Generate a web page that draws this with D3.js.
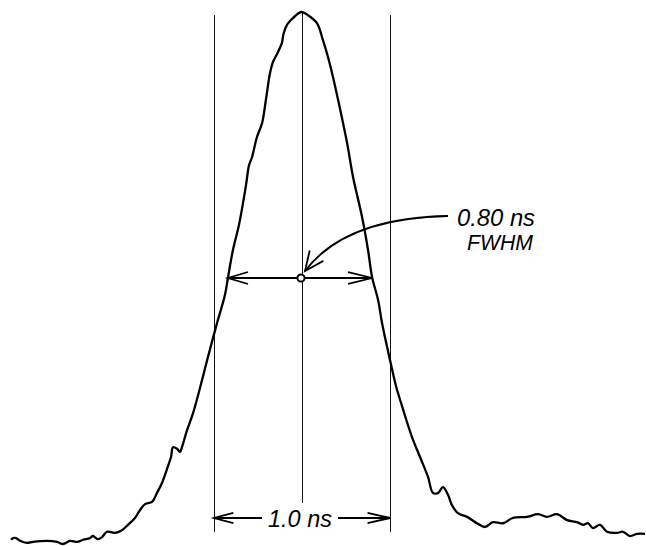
<!DOCTYPE html>
<html>
<head>
<meta charset="utf-8">
<script src="https://cdn.jsdelivr.net/npm/d3@7"></script>
<style>
  body { margin: 0; background: #fff; }
  svg { display: block; }
  text { font-family: "Liberation Sans", Arial, sans-serif; font-style: italic; fill: #000; }
</style>
</head>
<body>
<svg width="646" height="546"></svg>
<script>
// pulse shape: time in ns (0 = peak), normalised intensity
var pulseTime = [
  -1.653, -1.642, -1.625, -1.602, -1.563, -1.528, -1.449, -1.392, -1.358, -1.318,
  -1.278, -1.244, -1.205, -1.188, -1.159, -1.136, -1.108, -1.063, -1.023, -0.989,
  -0.949, -0.920, -0.892, -0.852, -0.824, -0.795, -0.767, -0.744, -0.733, -0.710,
  -0.693, -0.682, -0.653, -0.619, -0.568, -0.534, -0.483, -0.438, -0.420, -0.392,
  -0.358, -0.318, -0.301, -0.284, -0.256, -0.227, -0.205, -0.182, -0.165, -0.136,
  -0.114, -0.105, -0.085, -0.068, -0.040, -0.006, 0.034, 0.085, 0.119, 0.148,
  0.176, 0.205, 0.256, 0.290, 0.341, 0.375, 0.398, 0.432, 0.455, 0.500,
  0.534, 0.563, 0.591, 0.625, 0.670, 0.716, 0.744, 0.773, 0.801, 0.830,
  0.852, 0.886, 0.938, 0.994, 1.040, 1.085, 1.142, 1.199, 1.278, 1.341,
  1.392, 1.449, 1.506, 1.563, 1.597, 1.625, 1.653, 1.693, 1.733, 1.790,
  1.824, 1.864, 1.903, 1.949
];
var pulseLevel = [
  0.008, 0.011, 0.011, 0.006, 0.002, 0.004, 0.006, 0.004, 0.000, 0.006,
  0.004, 0.008, 0.011, 0.015, 0.009, 0.013, 0.023, 0.021, 0.026, 0.036,
  0.049, 0.064, 0.075, 0.079, 0.096, 0.115, 0.141, 0.164, 0.182, 0.179,
  0.173, 0.182, 0.214, 0.246, 0.308, 0.352, 0.415, 0.468, 0.502, 0.553,
  0.600, 0.675, 0.712, 0.727, 0.765, 0.791, 0.835, 0.885, 0.906, 0.925,
  0.942, 0.959, 0.976, 0.983, 0.992, 1.000, 0.994, 0.979, 0.947, 0.915,
  0.878, 0.835, 0.754, 0.690, 0.615, 0.553, 0.502, 0.459, 0.415, 0.346,
  0.297, 0.265, 0.235, 0.201, 0.164, 0.126, 0.096, 0.096, 0.107, 0.092,
  0.073, 0.058, 0.051, 0.039, 0.032, 0.041, 0.039, 0.049, 0.051, 0.056,
  0.051, 0.056, 0.045, 0.041, 0.036, 0.039, 0.030, 0.036, 0.023, 0.021,
  0.023, 0.015, 0.019, 0.019
];
var markerTimes = [-0.5, 0, 0.5];
var halfMax = 0.5;
var fwhmLabels = ['0.80 ns', 'FWHM'];
var spanLabel = '1.0 ns';

var width = 646, height = 546;
var svg = d3.select('svg');

var x = d3.scaleLinear().domain([-0.5, 0.5]).range([214, 390]);
var y = d3.scaleLinear().domain([0, 1]).range([544, 12]);

var points = pulseTime.map(function(t, i) {
  return { t: t, v: pulseLevel[i] };
});

// open "V" arrow head, ang = direction the arrow travels
function arrowHead(g, px, py, ang, len, spread) {
  var a1 = ang + Math.PI - spread, a2 = ang + Math.PI + spread;
  g.append('path')
    .attr('d', 'M' + (px + len * Math.cos(a1)) + ',' + (py + len * Math.sin(a1)) +
               'L' + px + ',' + py +
               'L' + (px + len * Math.cos(a2)) + ',' + (py + len * Math.sin(a2)))
    .attr('fill', 'none')
    .attr('stroke', '#000')
    .attr('stroke-width', 1.8)
    .attr('stroke-linejoin', 'miter');
}

// where the trace crosses half maximum, rising and falling edge
function halfCrossing(rising) {
  for (var i = 0; i < points.length - 1; i++) {
    var a = points[i], b = points[i + 1];
    var ok = rising ? (a.v < halfMax && b.v >= halfMax) : (a.v >= halfMax && b.v < halfMax);
    if (ok) return a.t + (halfMax - a.v) / (b.v - a.v) * (b.t - a.t);
  }
  return 0;
}

// vertical reference lines
var lines = svg.append('g').classed('lines', true);
lines.selectAll('line')
  .data(markerTimes)
  .enter()
  .append('line')
  .attr('x1', function(d) { return x(d) + 0.5; })
  .attr('x2', function(d) { return x(d) + 0.5; })
  .attr('y1', function(d) { return d === 0 ? y(1) : 15; })
  .attr('y2', function(d) { return d === 0 ? 503 : 532; })
  .attr('stroke', '#111')
  .attr('stroke-width', 1);

// the pulse
var line = d3.line()
  .x(function(d) { return x(d.t); })
  .y(function(d) { return y(d.v); })
  .curve(d3.curveCatmullRom.alpha(0.5));

svg.append('path')
  .datum(points)
  .attr('d', line)
  .attr('fill', 'none')
  .attr('stroke', '#000')
  .attr('stroke-width', 2.3)
  .attr('stroke-linejoin', 'round');

// FWHM arrows
var ann = svg.append('g').classed('annotations', true);
var tL = halfCrossing(true), tR = halfCrossing(false);
var yh = y(halfMax);
ann.append('line')
  .attr('x1', x(tL)).attr('x2', x(tR))
  .attr('y1', yh).attr('y2', yh)
  .attr('stroke', '#000').attr('stroke-width', 2);
arrowHead(ann, x(tL), yh, Math.PI, 21, 0.29);
arrowHead(ann, x(tR), yh, 0, 25, 0.24);

// leader from the label to the centre
var p0 = [448, 216], p1 = [345, 218], p2 = [x(0) + 3, yh - 7];
var lp = d3.path();
lp.moveTo(p0[0], p0[1]);
lp.quadraticCurveTo(p1[0], p1[1], p2[0], p2[1]);
ann.append('path')
  .attr('d', lp.toString())
  .attr('fill', 'none')
  .attr('stroke', '#000')
  .attr('stroke-width', 1.8);
arrowHead(ann, p2[0], p2[1], Math.atan2(p2[1] - p1[1], p2[0] - p1[0]), 21, 0.42);

ann.append('circle')
  .attr('cx', x(0) - 1)
  .attr('cy', yh)
  .attr('r', 3.6)
  .attr('fill', '#fff')
  .attr('stroke', '#000')
  .attr('stroke-width', 2);

ann.selectAll('text.fwhm')
  .data(fwhmLabels)
  .enter()
  .append('text')
  .classed('fwhm', true)
  .attr('x', function(d, i) { return i === 0 ? 457 : 467; })
  .attr('y', function(d, i) { return i === 0 ? 226 : 250; })
  .attr('font-size', function(d, i) { return i === 0 ? 24 : 22; })
  .attr('textLength', function(d, i) { return i === 0 ? 78 : 66; })
  .attr('lengthAdjust', 'spacingAndGlyphs')
  .text(function(d) { return d; });

// 1.0 ns span arrow
var ys = 518;
ann.append('line')
  .attr('x1', x(-0.5)).attr('x2', 262)
  .attr('y1', ys).attr('y2', ys)
  .attr('stroke', '#000').attr('stroke-width', 1.8);
ann.append('line')
  .attr('x1', 338).attr('x2', x(0.5))
  .attr('y1', ys).attr('y2', ys)
  .attr('stroke', '#000').attr('stroke-width', 1.8);
arrowHead(ann, x(-0.5), ys, Math.PI, 20, 0.26);
arrowHead(ann, x(0.5), ys, 0, 23, 0.22);

ann.append('text')
  .attr('x', 268)
  .attr('y', 527)
  .attr('font-size', 24)
  .attr('textLength', 64)
  .attr('lengthAdjust', 'spacingAndGlyphs')
  .text(spanLabel);
</script>
</body>
</html>
